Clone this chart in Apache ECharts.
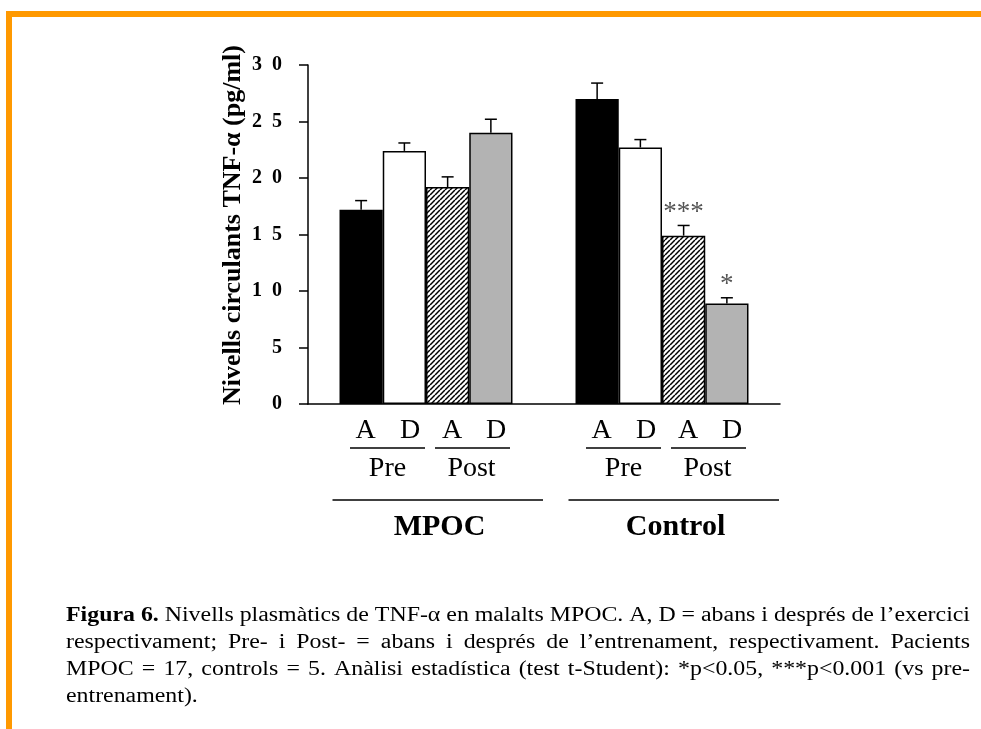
<!DOCTYPE html>
<html>
<head>
<meta charset="utf-8">
<script src="https://cdn.jsdelivr.net/npm/echarts@6.0.0/dist/echarts.min.js"></script>
<style>
  html, body { margin: 0; padding: 0; background: #fff; }
  #main { width: 981px; height: 729px; }
</style>
</head>
<body>
<div id="main"></div>
<script>
// data
const groups = ['MPOC', 'Control'];
const barNames = ['Pre A', 'Pre D', 'Post A', 'Post D'];
const subLabels = ['A', 'D', 'A', 'D'];
const phaseLabels = ['Pre', 'Post'];
const preA = [17.2, 27.0];
const preD = [22.4, 22.7];
const postA = [19.2, 14.9];
const postD = [24.0, 8.9];
const preAErr = [0.8, 1.4];
const preDErr = [0.7, 0.7];
const postAErr = [0.9, 0.9];
const postDErr = [1.2, 0.5];
const postASig = ['', '***'];
const postDSig = ['', '*'];
const yTicks = { min: 0, max: 30, interval: 5 };
const yTitle = 'Nivells circulants TNF-\u03b1 (pg/ml)';
const captionLines = [
  [['Figura 6.', true], ['Nivells plasmàtics de TNF-\u03b1 en malalts MPOC. A, D = abans i després de l\u2019exercici', false]],
  [['respectivament; Pre- i Post- = abans i després de l\u2019entrenament, respectivament. Pacients', false]],
  [['MPOC = 17, controls = 5. Anàlisi estadística (test t-Student): *p<0.05, ***p<0.001 (vs pre-', false]],
  [['entrenament).', false]]
];

const serif = "'Liberation Serif', 'Times New Roman', serif";
const gapPct = 0.267;

// diagonal hatch for the Post A bars
function hatch() {
  const c = document.createElement('canvas');
  c.width = 5; c.height = 5;
  const ctx = c.getContext('2d');
  ctx.fillStyle = '#fff';
  ctx.fillRect(0, 0, 5, 5);
  ctx.strokeStyle = '#000';
  ctx.lineWidth = 1.5;
  for (let k = -1; k <= 1; k++) {
    ctx.beginPath();
    ctx.moveTo(k * 5, 5);
    ctx.lineTo(k * 5 + 5, 0);
    ctx.stroke();
  }
  return c;
}

const fills = ['#000', '#fff', { image: hatch(), repeat: 'repeat' }, '#b3b3b3'];
const means = [preA, preD, postA, postD];
const errs = [preAErr, preDErr, postAErr, postDErr];
const sigs = [['', ''], ['', ''], postASig, postDSig];

const chart = echarts.init(document.getElementById('main'));

const series = [];
means.forEach((vals, k) => {
  series.push({
    name: barNames[k],
    type: 'bar',
    data: vals,
    barGap: '0%',
    barCategoryGap: (gapPct * 100) + '%',
    itemStyle: { color: fills[k], borderColor: '#000', borderWidth: 1.5 },
    silent: true
  });
});
// error bars (upper only) and significance marks
means.forEach((vals, k) => {
  series.push({
    type: 'custom',
    z: 5,
    data: vals.map((v, i) => [i, v, errs[k][i]]),
    encode: { x: 0, y: 1 },
    clip: false,
    silent: true,
    renderItem: function (params, api) {
      const base = api.coord([api.value(0), api.value(1)]);
      const top = api.coord([api.value(0), api.value(1) + api.value(2)]);
      const band = api.size([1, 0])[0];
      const bw = band * (1 - gapPct) / 4;
      const x = base[0] + (k - 1.5) * bw;
      const children = [
        { type: 'line', shape: { x1: x, y1: base[1], x2: x, y2: top[1] }, style: { stroke: '#000', lineWidth: 1.5 } },
        { type: 'line', shape: { x1: x - 6, y1: top[1], x2: x + 6, y2: top[1] }, style: { stroke: '#000', lineWidth: 1.5 } }
      ];
      const mark = sigs[k][params.dataIndex];
      if (mark) {
        children.push({
          type: 'text', x: x, y: top[1] - 13,
          style: { text: mark, font: '27px ' + serif, fill: '#555', align: 'center', verticalAlign: 'middle' }
        });
      }
      return { type: 'group', children: children };
    }
  });
});

chart.setOption({
  animation: false,
  backgroundColor: '#fff',
  grid: { left: 308, right: 201, top: 65, bottom: 325, containLabel: false, outerBoundsMode: 'none' },
  xAxis: {
    type: 'category',
    data: groups,
    axisLine: { lineStyle: { color: '#000', width: 1.5 } },
    axisTick: { length: 7, lineStyle: { color: '#000', width: 1.5 } },
    axisLabel: { show: false }
  },
  yAxis: {
    type: 'value',
    min: yTicks.min,
    max: yTicks.max,
    interval: yTicks.interval,
    splitLine: { show: false },
    axisLine: { show: true, lineStyle: { color: '#000', width: 1.5 } },
    axisTick: { show: true, length: 9, lineStyle: { color: '#000', width: 1.5 } },
    axisLabel: {
      margin: 26,
      color: '#000',
      fontFamily: serif,
      fontWeight: 'bold',
      fontSize: 20,
      formatter: v => String(v).split('').join('\u2002')
    }
  },
  series: series
});

// labels under the axis, the y title, the caption and the orange frame
const g = [];
g.push({ type: 'rect', shape: { x: 6, y: 11, width: 975, height: 6 }, style: { fill: '#ff9900' }, silent: true });
g.push({ type: 'rect', shape: { x: 6, y: 11, width: 6, height: 718 }, style: { fill: '#ff9900' }, silent: true });

g.push({
  type: 'text', x: 233, y: 225, rotation: Math.PI / 2,
  style: { text: yTitle, font: 'bold 26px ' + serif, fill: '#000', align: 'center', verticalAlign: 'middle' }
});

const subOff = [-60.5, -16, 26, 70];
const phaseOff = [-38.5, 45.5];
const phaseLine = [[-76, -1], [9, 84]];
groups.forEach((name, i) => {
  const cx = chart.convertToPixel({ xAxisIndex: 0 }, name);
  subLabels.forEach((t, j) => {
    g.push({ type: 'text', x: cx + subOff[j], y: 431,
      style: { text: t, font: '28px ' + serif, fill: '#000', align: 'center', verticalAlign: 'middle' } });
  });
  phaseLabels.forEach((t, j) => {
    g.push({ type: 'line', shape: { x1: cx + phaseLine[j][0], y1: 448, x2: cx + phaseLine[j][1], y2: 448 },
      style: { stroke: '#000', lineWidth: 1.5 } });
    g.push({ type: 'text', x: cx + phaseOff[j], y: 469,
      style: { text: t, font: '28px ' + serif, fill: '#000', align: 'center', verticalAlign: 'middle' } });
  });
  g.push({ type: 'line', shape: { x1: cx - 93.5, y1: 500, x2: cx + 117, y2: 500 },
    style: { stroke: '#000', lineWidth: 1.5 } });
  g.push({ type: 'text', x: cx + 13.5, y: 527,
    style: { text: name, font: 'bold 30px ' + serif, fill: '#000', align: 'center', verticalAlign: 'middle' } });
});

// justified caption, word by word
const measure = document.createElement('canvas').getContext('2d');
function wordWidth(t, bold) {
  measure.font = (bold ? 'bold ' : '') + '20px ' + serif;
  return measure.measureText(t).width;
}
const capLeft = 66, capRight = 970, capW = capRight - capLeft;
const capY = [616, 643, 670, 697];
const words = captionLines.map(line => {
  const out = [];
  line.forEach(([txt, bold]) => txt.split(' ').forEach(w => out.push({ t: w, bold: bold })));
  return out;
});
const spaceW = wordWidth(' ', false);
const natural0 = words[0].reduce((s, w) => s + wordWidth(w.t, w.bold), 0) + spaceW * (words[0].length - 1);
const sx = capW / natural0;
words.forEach((ws, li) => {
  const widths = ws.map(w => wordWidth(w.t, w.bold) * sx);
  const total = widths.reduce((a, b) => a + b, 0);
  const last = li === words.length - 1;
  const gap = last ? spaceW * sx : (capW - total) / (ws.length - 1);
  let x = capLeft;
  ws.forEach((w, j) => {
    g.push({ type: 'text', x: x, y: capY[li], scaleX: sx,
      style: { text: w.t, x: 0, y: 0, font: (w.bold ? 'bold ' : '') + '20px ' + serif, fill: '#000', align: 'left', verticalAlign: 'middle' } });
    x += widths[j] + gap;
  });
});

chart.setOption({ graphic: g });
</script>
</body>
</html>
